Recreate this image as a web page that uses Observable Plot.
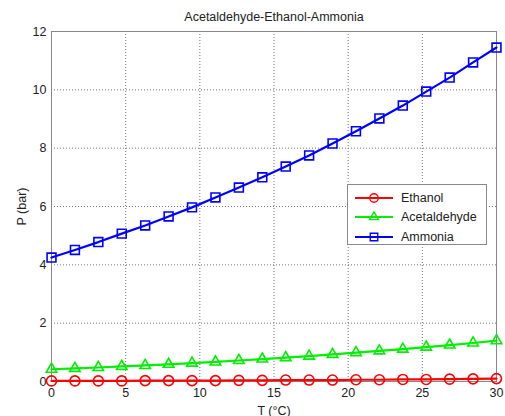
<!DOCTYPE html>
<html>
<head>
<meta charset="utf-8">
<script src="https://cdn.jsdelivr.net/npm/d3@7"></script>
<script src="https://cdn.jsdelivr.net/npm/@observablehq/plot@0.6"></script>
<style>
  body { margin: 0; background: #fff; font-family: "Liberation Sans", Arial, sans-serif; }
  #wrap { position: relative; width: 505px; height: 416px; }
  #legend {
    position: absolute; left: 347px; top: 184px; width: 140px; height: 61px;
    box-sizing: border-box; border: 1px solid #8a8a8a; background: #fff;
    font-size: 12.5px; color: #222; padding-top: 3px;
  }
  .row { display: flex; align-items: center; height: 19.5px; }
  .row svg { margin-left: 7px; margin-right: 8px; }
</style>
</head>
<body>
<div id="wrap"></div>
<script>
// Temperature grid (°C), 20 evenly spaced points from 0 to 30
const temperature = [0, 1.579, 3.158, 4.737, 6.316, 7.895, 9.474, 11.053, 12.632, 14.211,
  15.789, 17.368, 18.947, 20.526, 22.105, 23.684, 25.263, 26.842, 28.421, 30];

// Vapour pressure (bar) of each component
const ethanol = [0.02, 0.02, 0.02, 0.02, 0.03, 0.03, 0.03, 0.03, 0.04, 0.04,
  0.05, 0.05, 0.05, 0.06, 0.06, 0.07, 0.07, 0.08, 0.09, 0.10];
const acetaldehyde = [0.42, 0.45, 0.48, 0.52, 0.55, 0.59, 0.63, 0.67, 0.72, 0.77,
  0.82, 0.87, 0.93, 0.99, 1.05, 1.11, 1.18, 1.25, 1.32, 1.40];
const ammonia = [4.25, 4.51, 4.78, 5.07, 5.35, 5.66, 5.97, 6.31, 6.65, 7.00,
  7.37, 7.75, 8.16, 8.58, 9.02, 9.46, 9.94, 10.42, 10.94, 11.45];

const seriesNames = ["Ethanol", "Acetaldehyde", "Ammonia"];
const seriesColors = ["#ff0000", "#00ee00", "#0000ff"];
const seriesSymbols = ["circle", "triangle", "square"];
const markerRadius = [5, 3.9, 5];
const xTicks = [0, 5, 10, 15, 20, 25, 30];
const yTicks = [0, 2, 4, 6, 8, 10, 12];
const title = "Acetaldehyde-Ethanol-Ammonia";

const values = [ethanol, acetaldehyde, ammonia];
const rows = values.flatMap((vals, s) =>
  vals.map((p, i) => ({T: temperature[i], P: p, series: seriesNames[s], r: markerRadius[s]})));

const gridStyle = {stroke: "#666", strokeOpacity: 0.9, strokeDasharray: "1,2", strokeWidth: 1};

const chart = Plot.plot({
  width: 505,
  height: 416,
  marginLeft: 51,
  marginRight: 9,
  marginTop: 31,
  marginBottom: 35,
  style: {fontFamily: "Liberation Sans, Arial, sans-serif", fontSize: "12.5px", color: "#222", background: "#fff"},
  x: {domain: [0, 30], ticks: xTicks, tickSize: 0, tickPadding: 7, label: "T (°C)", labelAnchor: "center", labelOffset: 33, labelArrow: "none"},
  y: {domain: [0, 12], ticks: yTicks, tickSize: 0, tickPadding: 5, label: "P (bar)", labelAnchor: "center", labelOffset: 34, labelArrow: "none"},
  color: {domain: seriesNames, range: seriesColors},
  symbol: {domain: seriesNames, range: seriesSymbols},
  r: {type: "identity"},
  marks: [
    Plot.gridX(xTicks.slice(1, -1), gridStyle),
    Plot.gridY(yTicks.slice(1, -1), gridStyle),
    Plot.frame({stroke: "#888"}),
    Plot.line(rows, {x: "T", y: "P", z: "series", stroke: "series", strokeWidth: 2.2}),
    Plot.dot(rows, {x: "T", y: "P", stroke: "series", symbol: "series", fill: "none", strokeWidth: 1.6, r: "r"}),
    Plot.text([title], {text: d => d, frameAnchor: "top", dy: -19, fontSize: 12.5, fill: "#222"})
  ]
});
document.getElementById("wrap").appendChild(chart);

// Legend box with line+marker swatches
const legend = document.createElement("div");
legend.id = "legend";
seriesNames.forEach((name, i) => {
  const row = document.createElement("div");
  row.className = "row";
  const type = d3[{circle: "symbolCircle", triangle: "symbolTriangle", square: "symbolSquare"}[seriesSymbols[i]]];
  const sym = d3.symbol(type, Math.PI * markerRadius[i] * markerRadius[i])();
  row.innerHTML =
    `<svg width="38" height="14"><line x1="0" x2="38" y1="7" y2="7" stroke="${seriesColors[i]}" stroke-width="2.2"/>` +
    `<path d="${sym}" transform="translate(19,7) scale(0.85)" fill="none" stroke="${seriesColors[i]}" stroke-width="1.6"/></svg>` +
    `<span>${name}</span>`;
  legend.appendChild(row);
});
document.getElementById("wrap").appendChild(legend);
</script>
</body>
</html>
